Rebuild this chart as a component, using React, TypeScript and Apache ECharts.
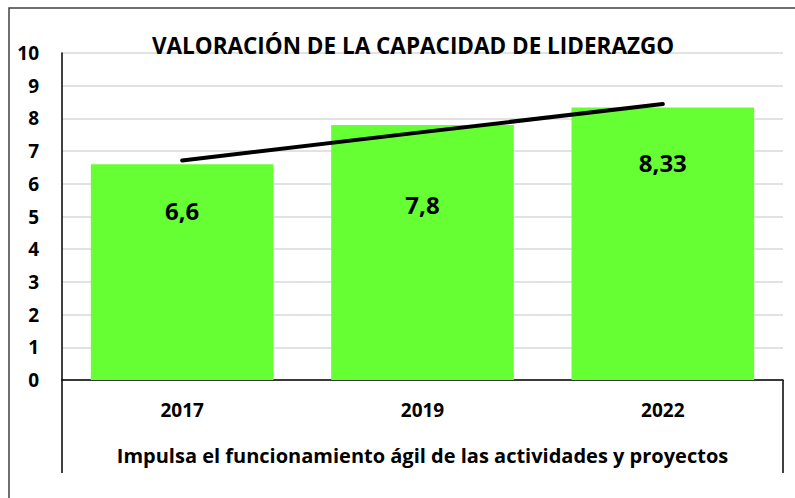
import React, { useEffect, useRef } from "react";
import * as echarts from "echarts";

const categories = ["2017", "2019", "2022"];
const values = [6.6, 7.8, 8.33];
const valueLabels = ["6,6", "7,8", "8,33"];
const trendValues = [6.71, 7.58, 8.44];
const yTicks = [0, 1, 2, 3, 4, 5, 6, 7, 8, 9, 10];
const labelDistances = [46, 80, 55];

const FONT = "'Open Sans', 'Noto Sans', sans-serif";

export default function App() {
  const ref = useRef<HTMLDivElement>(null);
  useEffect(() => {
    if (!ref.current) return;
    const chart = echarts.init(ref.current, undefined, { renderer: "svg" });
    chart.setOption({
      animation: false,
      backgroundColor: "#ffffff",
      textStyle: { fontFamily: FONT },
      title: {
        text: "VALORACIÓN DE LA CAPACIDAD DE LIDERAZGO",
        left: 408,
        top: 29,
        textAlign: "center",
        textStyle: { fontFamily: FONT, fontWeight: "bold", fontSize: 22.5, color: "#000" },
      },
      grid: { left: 62, right: 12, top: 53, bottom: 118 },
      xAxis: {
        type: "category",
        data: categories,
        name: "Impulsa el funcionamiento ágil de las actividades y proyectos",
        nameLocation: "middle",
        nameGap: 65,
        nameTextStyle: { fontFamily: FONT, fontWeight: "bold", fontSize: 20, color: "#000" },
        axisLine: { lineStyle: { color: "#000", width: 1.5 } },
        axisTick: { show: false },
        axisLabel: { margin: 20, fontFamily: FONT, fontWeight: "bold", fontSize: 19, color: "#000" },
      },
      yAxis: {
        type: "value",
        min: yTicks[0],
        max: yTicks[yTicks.length - 1],
        interval: 1,
        axisLine: { show: true, lineStyle: { color: "#000", width: 1.5 } },
        axisTick: { show: false },
        axisLabel: { margin: 23, fontFamily: FONT, fontWeight: "bold", fontSize: 19, color: "#000" },
        splitLine: { lineStyle: { color: "#d9d9d9", width: 1.5 } },
      },
      series: [
        {
          type: "bar",
          barWidth: "76%",
          itemStyle: { color: "#66ff33" },
          data: values.map((v, i) => ({
            value: v,
            label: {
              show: true,
              position: "insideTop",
              distance: labelDistances[i],
              verticalAlign: "middle",
              formatter: valueLabels[i],
              fontFamily: FONT,
              fontWeight: "bold",
              fontSize: 24,
              color: "#000",
            },
          })),
          z: 2,
        },
        {
          type: "line",
          data: trendValues,
          symbol: "none",
          lineStyle: { color: "#000", width: 4, cap: "round" },
          z: 3,
        },
      ],
      graphic: [
        {
          type: "rect",
          shape: { x: 9, y: 8, width: 820, height: 520 },
          style: { fill: "none", stroke: "#404040", lineWidth: 1.5 },
          silent: true,
        },
        {
          type: "line",
          shape: { x1: 62, y1: 380, x2: 62, y2: 473 },
          style: { stroke: "#000", lineWidth: 1.5 },
          silent: true,
        },
        {
          type: "line",
          shape: { x1: 783, y1: 380, x2: 783, y2: 473 },
          style: { stroke: "#000", lineWidth: 1.5 },
          silent: true,
        },
      ],
    });
    return () => chart.dispose();
  }, []);
  return (
    <div
      ref={ref}
      style={{ position: "fixed", left: 0, top: 0, width: 795, height: 498 }}
    />
  );
}
